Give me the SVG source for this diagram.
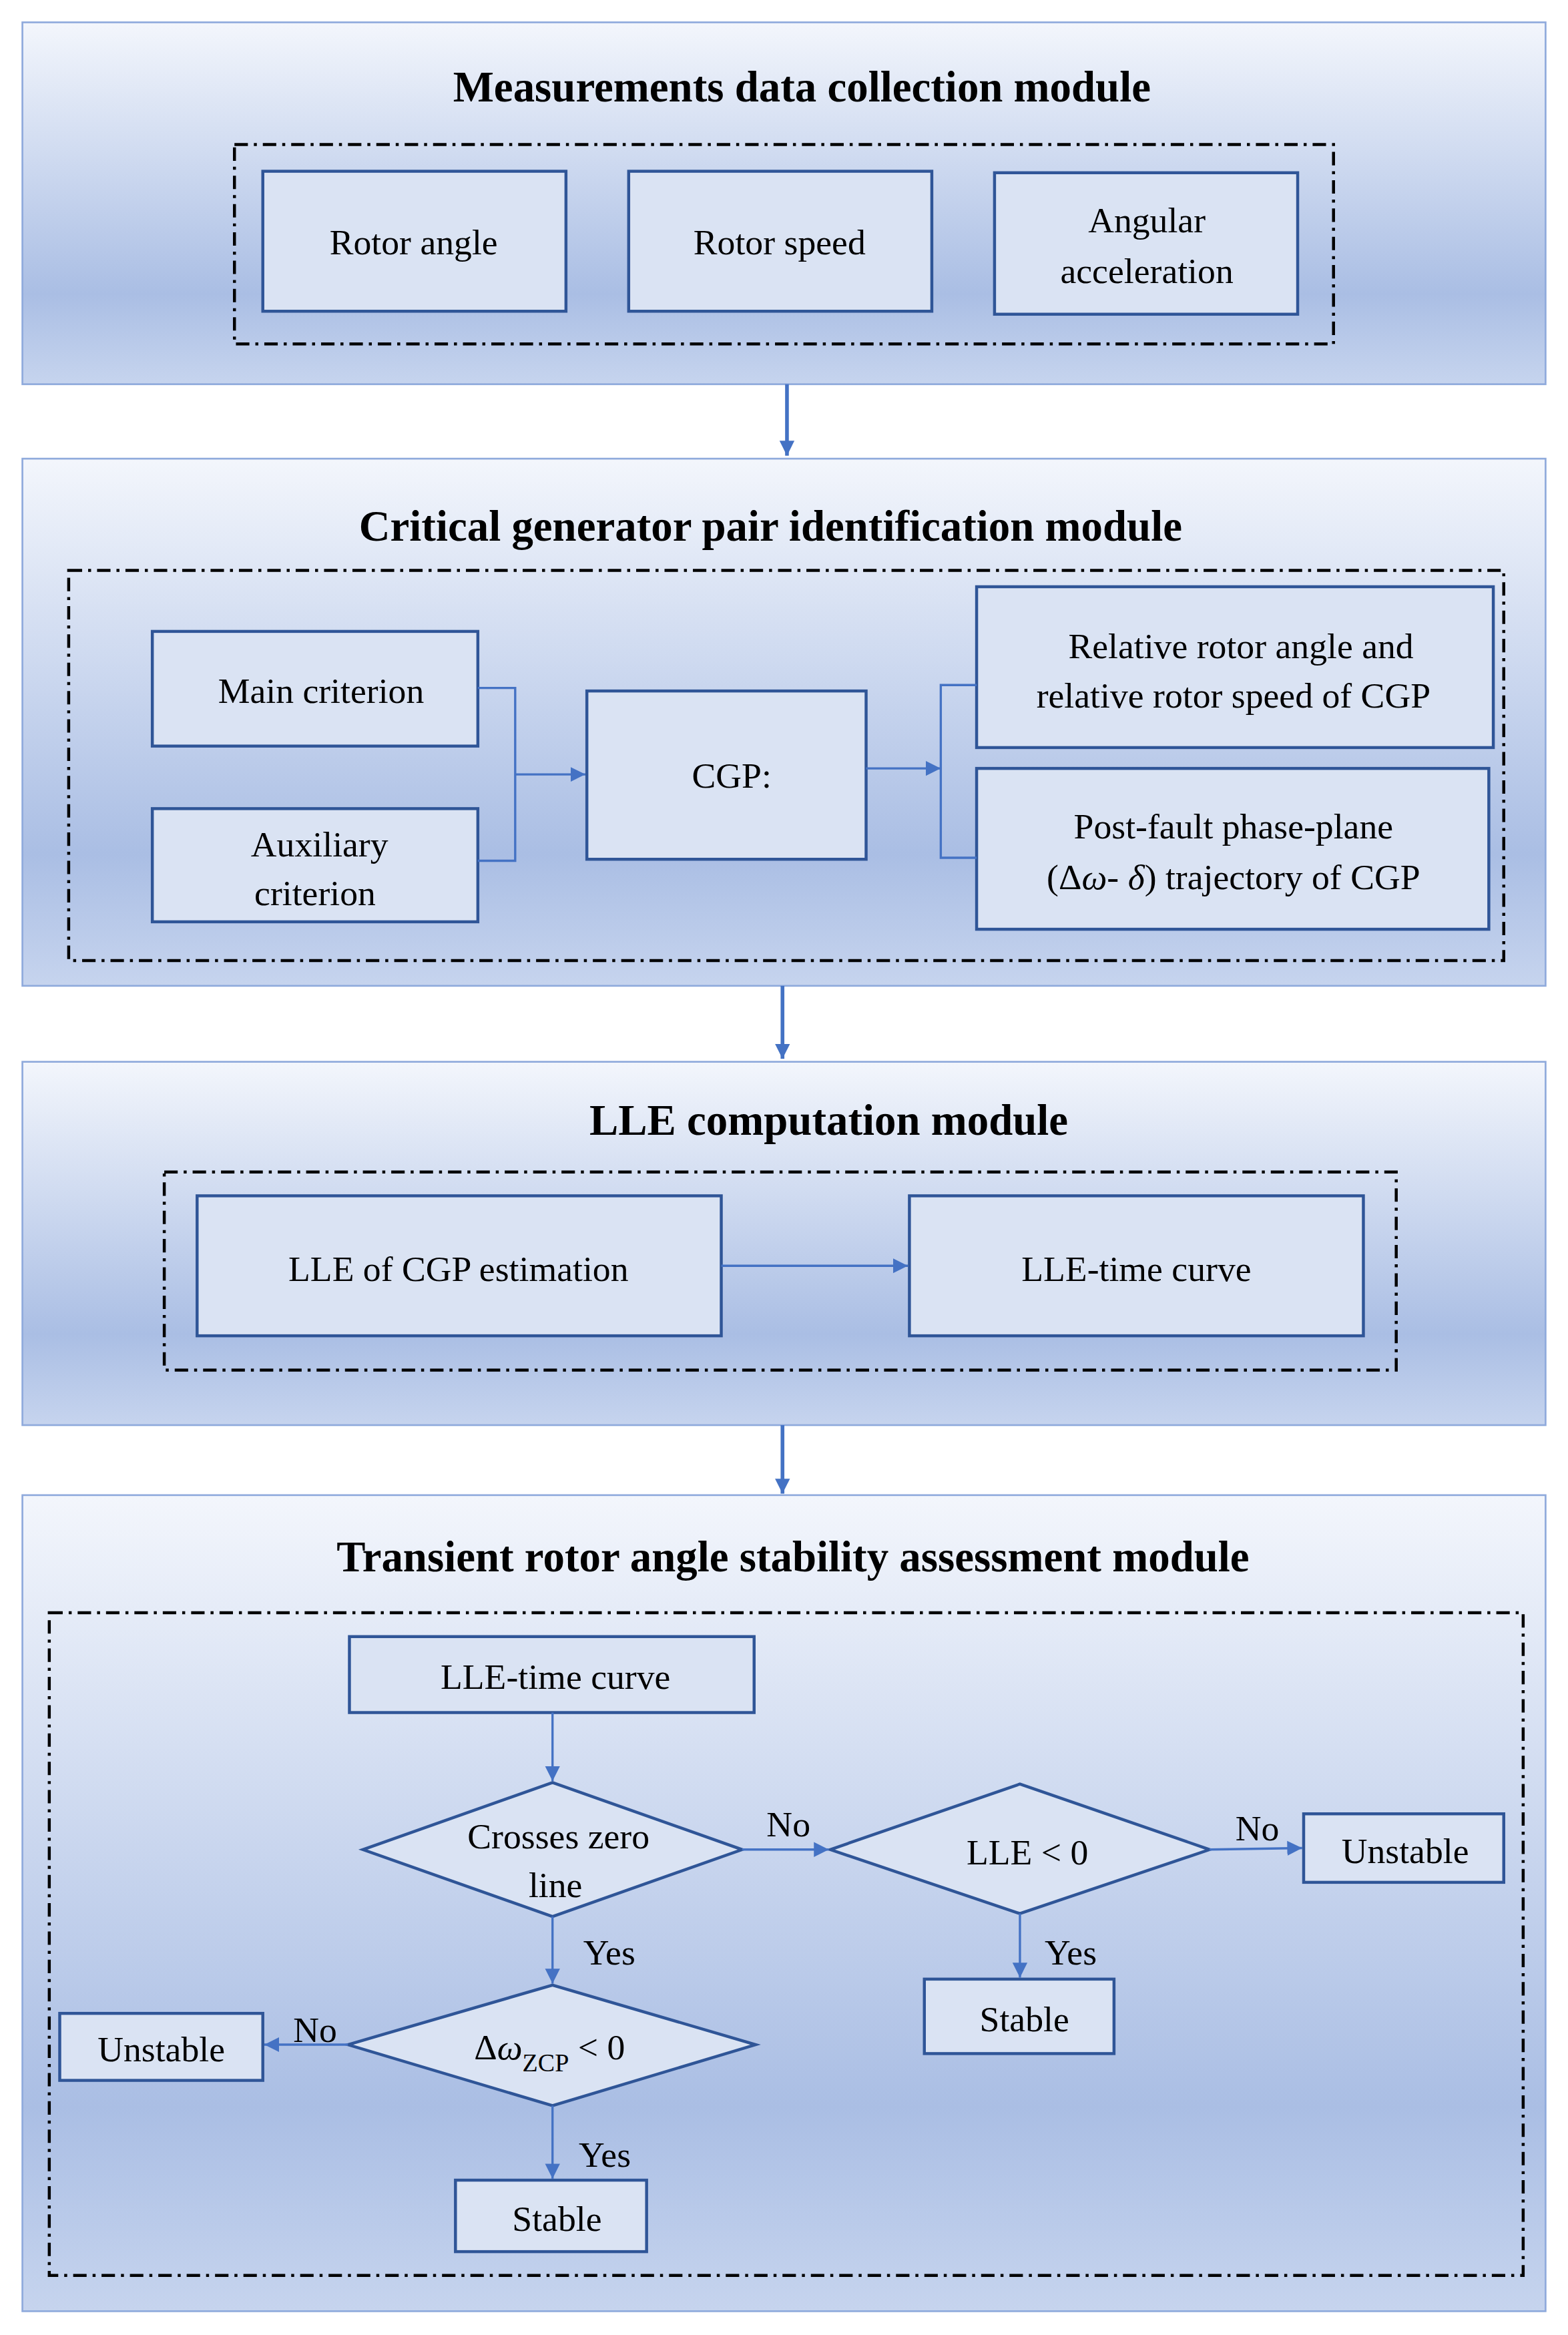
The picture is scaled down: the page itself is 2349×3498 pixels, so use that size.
<svg xmlns="http://www.w3.org/2000/svg" width="2349" height="3498" viewBox="0 0 2349 3498">
<style>
.mod{stroke:#8faadc;stroke-width:1.2;fill:url(#g)}
.dd{fill:none;stroke:#000;stroke-width:2;stroke-dasharray:9 4 2 4}
.bx{fill:#dae3f3;stroke:#2f5597;stroke-width:2}
.t{font-family:"Liberation Serif",serif;font-size:24px;text-anchor:middle;fill:#000}
.h{font-family:"Liberation Serif",serif;font-size:29px;font-weight:bold;text-anchor:middle;fill:#000}
.c{fill:none;stroke:#4472c4;stroke-width:1.5}
.ct{fill:none;stroke:#4472c4;stroke-width:2.5}
</style>
<defs>
<linearGradient id="g" x1="0" y1="0" x2="0" y2="1">
<stop offset="0" stop-color="#f3f6fc"/><stop offset="0.75" stop-color="#aabee4"/><stop offset="1" stop-color="#c6d4ee"/>
</linearGradient>
<marker id="a" viewBox="0 0 10 10" refX="10" refY="5" markerWidth="5" markerHeight="5" orient="auto" markerUnits="userSpaceOnUse"><path d="M0,0L10,5L0,10z" fill="#4472c4"/></marker>
<marker id="b" viewBox="0 0 10 10" refX="10" refY="5" markerWidth="10" markerHeight="12" orient="auto" markerUnits="userSpaceOnUse"><path d="M0,0L10,5L0,10z" fill="#4472c4"/></marker>
</defs>
<rect width="2349" height="3498" fill="#fff"/>
<g transform="scale(2.2371,2.2309)">
<g id="m1">
<rect class="mod" x="15" y="15" width="1020" height="243"/>
<text class="h" x="537" y="68">Measurements data collection module</text>
<rect class="dd" x="157" y="97" width="736" height="134"/>
</g>
<g id="n-rotor-angle"><rect class="bx" x="176" y="115" width="203" height="94"/><text class="t" x="277" y="171">Rotor angle</text></g>
<g id="n-rotor-speed"><rect class="bx" x="421" y="115" width="203" height="94"/><text class="t" x="522" y="171">Rotor speed</text></g>
<g id="n-ang"><rect class="bx" x="666" y="116" width="203" height="95"/><text class="t" x="768" y="156">Angular</text><text class="t" x="768" y="190">acceleration</text></g>
<g id="m2">
<rect class="mod" x="15" y="308" width="1020" height="354"/>
<text class="h" x="516" y="363">Critical generator pair identification module</text>
<rect class="dd" x="46" y="383" width="961" height="262"/>
</g>
<g id="n-main"><rect class="bx" x="102" y="424" width="218" height="77"/><text class="t" x="215" y="472">Main criterion</text></g>
<g id="n-aux"><rect class="bx" x="102" y="543" width="218" height="76"/><text class="t" x="214" y="575">Auxiliary</text><text class="t" x="211" y="608">criterion</text></g>
<g id="n-cgp"><rect class="bx" x="393" y="464" width="187" height="113"/><text class="t" x="490" y="529">CGP:</text></g>
<g id="n-rel"><rect class="bx" x="654" y="394" width="346" height="108"/><text class="t" x="831" y="442">Relative rotor angle  and</text><text class="t" x="826" y="475">relative rotor speed of CGP</text></g>
<g id="n-post"><rect class="bx" x="654" y="516" width="343" height="108"/><text class="t" x="826" y="563">Post-fault phase-plane</text><text class="t" x="826" y="597">(Δ<tspan font-style="italic">ω</tspan>- <tspan font-style="italic">δ</tspan>) trajectory of CGP</text></g>
<g id="m3">
<rect class="mod" x="15" y="713" width="1020" height="244"/>
<text class="h" x="555" y="762">LLE computation module</text>
<rect class="dd" x="110" y="787" width="825" height="133"/>
</g>
<g id="n-lleest"><rect class="bx" x="132" y="803" width="351" height="94"/><text class="t" x="307" y="860">LLE of CGP estimation</text></g>
<g id="n-llecurve"><rect class="bx" x="609" y="803" width="304" height="94"/><text class="t" x="761" y="860">LLE-time curve</text></g>
<g id="m4">
<rect class="mod" x="15" y="1004" width="1020" height="548"/>
<text class="h" x="531" y="1055">Transient rotor angle stability  assessment module</text>
<rect class="dd" x="33" y="1083" width="987" height="445"/>
</g>
<g id="n-curve2"><rect class="bx" x="234" y="1099" width="271" height="51"/><text class="t" x="372" y="1134">LLE-time curve</text></g>
<g id="d-cross"><polygon class="bx" points="243,1242 370,1197 497,1242 370,1287"/><text class="t" x="374" y="1241">Crosses zero</text><text class="t" x="372" y="1274">line</text></g>
<g id="d-lle"><polygon class="bx" points="556,1242 683,1198 810,1242 683,1285"/><text class="t" x="688" y="1252" font-size="30">LLE &lt; 0</text></g>
<g id="n-unst1"><rect class="bx" x="873" y="1218" width="134" height="46"/><text class="t" x="941" y="1251">Unstable</text></g>
<g id="n-stab1"><rect class="bx" x="619" y="1329" width="127" height="50"/><text class="t" x="686" y="1364">Stable</text></g>
<g id="d-dw"><polygon class="bx" points="233,1373 370,1333 506,1373 370,1414"/><text class="t" x="368" y="1383" font-size="30">Δ<tspan font-style="italic">ω</tspan><tspan font-size="17" dy="8">ZCP</tspan><tspan dy="-8"> &lt; 0</tspan></text></g>
<g id="n-unst2"><rect class="bx" x="40" y="1352" width="136" height="45"/><text class="t" x="108" y="1384">Unstable</text></g>
<g id="n-stab2"><rect class="bx" x="305" y="1464" width="128" height="48"/><text class="t" x="373" y="1498">Stable</text></g>
<g id="connectors">
<line class="ct" x1="527" y1="258" x2="527" y2="306" marker-end="url(#b)"/>
<line class="ct" x1="524" y1="662" x2="524" y2="711" marker-end="url(#b)"/>
<line class="ct" x1="524" y1="957" x2="524" y2="1003" marker-end="url(#b)"/>
<path class="c" d="M320,462H345V578H320M345,520H392" marker-end="url(#b)"/>
<path class="c" d="M654,460H630V576H654"/>
<line class="c" x1="580" y1="516" x2="630" y2="516" marker-end="url(#b)"/>
<line class="c" x1="483" y1="850" x2="608" y2="850" marker-end="url(#b)"/>
<line class="c" x1="370" y1="1150" x2="370" y2="1196" marker-end="url(#b)"/>
<line class="c" x1="497" y1="1242" x2="555" y2="1242" marker-end="url(#b)"/>
<line class="c" x1="810" y1="1242" x2="872" y2="1241" marker-end="url(#b)"/>
<line class="c" x1="683" y1="1285" x2="683" y2="1328" marker-end="url(#b)"/>
<line class="c" x1="370" y1="1287" x2="370" y2="1332" marker-end="url(#b)"/>
<line class="c" x1="233" y1="1373" x2="177" y2="1373" marker-end="url(#b)"/>
<line class="c" x1="370" y1="1414" x2="370" y2="1463" marker-end="url(#b)"/>
<text class="t" x="528" y="1233">No</text>
<text class="t" x="842" y="1236">No</text>
<text class="t" x="717" y="1319">Yes</text>
<text class="t" x="408" y="1319">Yes</text>
<text class="t" x="211" y="1371">No</text>
<text class="t" x="405" y="1455">Yes</text>
</g>
</g>
</svg>
